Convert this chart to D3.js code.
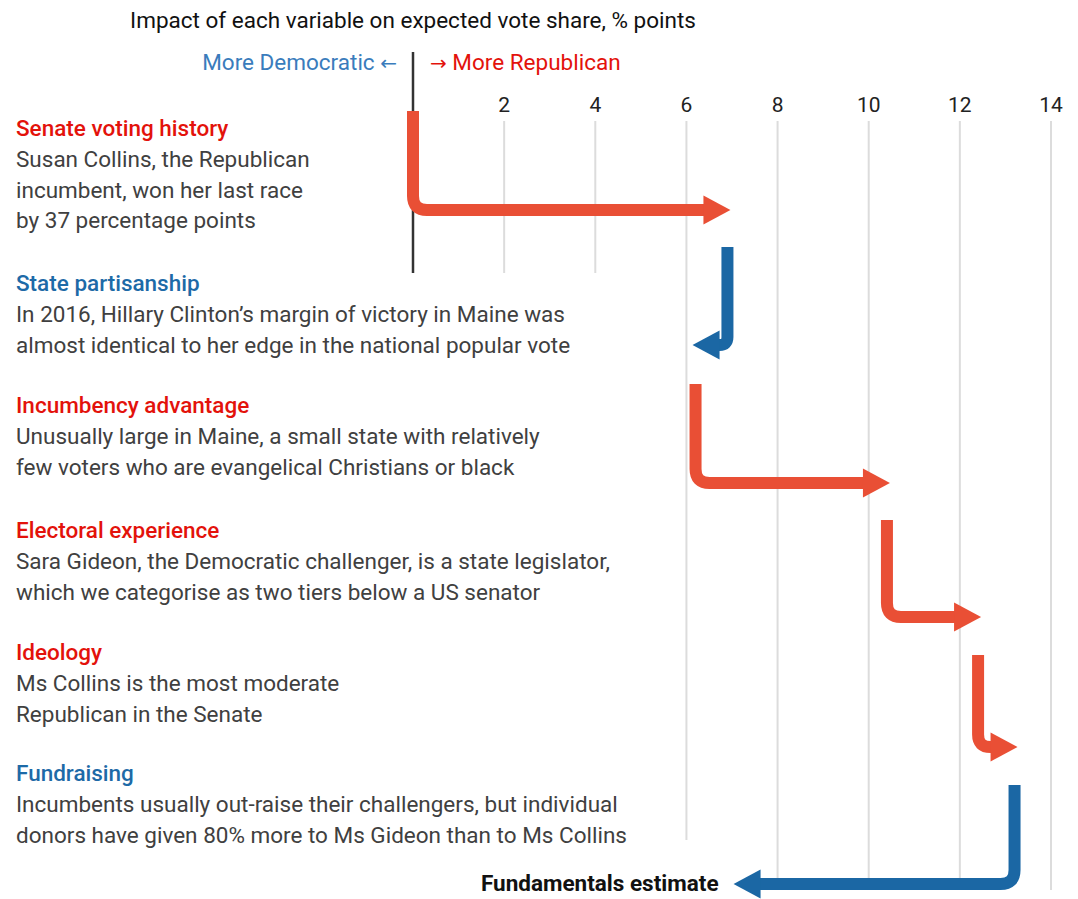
<!DOCTYPE html>
<html>
<head>
<meta charset="utf-8">
<script src="https://cdn.jsdelivr.net/npm/d3@7"></script>
<style>
  html, body { margin: 0; padding: 0; background: #fff; }
  svg { display: block; }
  text { font-family: Roboto, "Noto Sans", sans-serif; }
  .arrowglyph { font-family: "DejaVu Sans", sans-serif; }
</style>
</head>
<body>
<svg id="chart" width="1078" height="899"></svg>
<script>
// ---- data ----
const factors = [
  "Senate voting history",
  "State partisanship",
  "Incumbency advantage",
  "Electoral experience",
  "Ideology",
  "Fundraising"
];
// change in expected Republican vote share, % points
const effects = [6.9, -0.7, 4.2, 2.0, 0.8, -6.1];
const notes = [
  ["Susan Collins, the Republican", "incumbent, won her last race", "by 37 percentage points"],
  ["In 2016, Hillary Clinton\u2019s margin of victory in Maine was", "almost identical to her edge in the national popular vote"],
  ["Unusually large in Maine, a small state with relatively", "few voters who are evangelical Christians or black"],
  ["Sara Gideon, the Democratic challenger, is a state legislator,", "which we categorise as two tiers below a US senator"],
  ["Ms Collins is the most moderate", "Republican in the Senate"],
  ["Incumbents usually out-raise their challengers, but individual", "donors have given 80% more to Ms Gideon than to Ms Collins"]
];
const tickValues = [2, 4, 6, 8, 10, 12, 14];
const titleText = "Impact of each variable on expected vote share, % points";
const totalLabel = "Fundamentals estimate";

// ---- layout ----
const RED_ARROW = "#e94f35", BLUE_ARROW = "#1b67a4";
const RED_TEXT = "#e3120b", BLUE_TEXT = "#1d6aa7", BLUE_LIGHT = "#3a7cbc";
const BODY = "#404040";
const FS = 22.5;
const textTop = [128, 283, 405, 530, 652, 773];   // centre of each factor heading
const lineGap = 30.8;
const arrowTop = [111, 247, 384, 520, 655, 785];
const arrowDrop = [99, 98, 99, 97, 92, 99];
const gridBottom = [273, 273, 840, 890, 890, 890, 890];
const strokeW = 12, headLen = 27, headHalf = 14.5, overshoot = 3, cornerR = 14;

const x = d3.scaleLinear().domain([0, 14]).range([413, 1051]);

const svg = d3.select("#chart");

// gridlines
svg.append("g").selectAll("line")
  .data(tickValues)
  .join("line")
  .attr("x1", d => x(d)).attr("x2", d => x(d))
  .attr("y1", 121)
  .attr("y2", (d, i) => gridBottom[i])
  .attr("stroke", "#dcdcdc")
  .attr("stroke-width", 2);

// tick labels
svg.append("g").selectAll("text")
  .data(tickValues)
  .join("text")
  .attr("x", d => x(d)).attr("y", 112)
  .attr("text-anchor", "middle")
  .attr("font-size", 21)
  .attr("fill", "#222")
  .text(d => d);

// zero line
svg.append("line")
  .attr("x1", x(0)).attr("x2", x(0))
  .attr("y1", 52).attr("y2", 273)
  .attr("stroke", "#333").attr("stroke-width", 2.5);

// heading and direction labels
svg.append("text")
  .attr("x", x(0)).attr("y", 28)
  .attr("text-anchor", "middle").attr("font-size", FS).attr("fill", "#111")
  .text(titleText);

const dem = svg.append("text")
  .attr("x", x(0) - 16).attr("y", 70)
  .attr("text-anchor", "end").attr("font-size", FS).attr("fill", BLUE_LIGHT);
dem.append("tspan").text("More Democratic ");
dem.append("tspan").attr("class", "arrowglyph").attr("font-size", 20).text("\u2190");

const rep = svg.append("text")
  .attr("x", x(0) + 17).attr("y", 70)
  .attr("text-anchor", "start").attr("font-size", FS).attr("fill", RED_TEXT);
rep.append("tspan").attr("class", "arrowglyph").attr("font-size", 20).text("\u2192");
rep.append("tspan").text(" More Republican");

// factor descriptions
const rows = factors.map((f, i) => ({ name: f, effect: effects[i], lines: notes[i], i }));
const blocks = svg.append("g").selectAll("g").data(rows).join("g");
blocks.each(function (d) {
  const g = d3.select(this);
  g.append("text")
    .attr("x", 16).attr("y", textTop[d.i] + 8)
    .attr("font-size", FS).attr("font-weight", 500)
    .attr("fill", d.effect > 0 ? RED_TEXT : BLUE_TEXT)
    .text(d.name);
  d.lines.forEach((t, k) => {
    g.append("text")
      .attr("x", 16).attr("y", textTop[d.i] + 8 + lineGap * (k + 1))
      .attr("font-size", FS).attr("fill", BODY)
      .text(t);
  });
});

// waterfall arrows
let running = 0;
rows.forEach(d => {
  d.start = running;
  running += d.effect;
  d.end = running;
});

const arrows = svg.append("g").selectAll("g").data(rows).join("g");
arrows.each(function (d) {
  const g = d3.select(this);
  const dir = d.effect > 0 ? 1 : -1;
  const col = d.effect > 0 ? RED_ARROW : BLUE_ARROW;
  const x0 = x(d.start), x1 = x(d.end);
  const yT = arrowTop[d.i], yH = yT + arrowDrop[d.i];
  const tip = x1 + dir * overshoot;
  const base = tip - dir * headLen;
  const r = Math.max(6, Math.min(cornerR, dir * (base - x0)));
  const p = d3.path();
  p.moveTo(x0, yT);
  p.lineTo(x0, yH - r);
  p.quadraticCurveTo(x0, yH, x0 + dir * r, yH);
  p.lineTo(base + dir * 2, yH);
  g.append("path")
    .attr("d", p.toString())
    .attr("fill", "none")
    .attr("stroke", col)
    .attr("stroke-width", strokeW);
  g.append("path")
    .attr("d", `M${tip},${yH}L${base},${yH - headHalf}L${base},${yH + headHalf}Z`)
    .attr("fill", col);
});

// final estimate label
svg.append("text")
  .attr("x", x(running) - headLen + 9)
  .attr("y", arrowTop[5] + arrowDrop[5] + 7)
  .attr("text-anchor", "end")
  .attr("font-size", FS).attr("font-weight", 700).attr("fill", "#111")
  .text(totalLabel);
</script>
</body>
</html>
